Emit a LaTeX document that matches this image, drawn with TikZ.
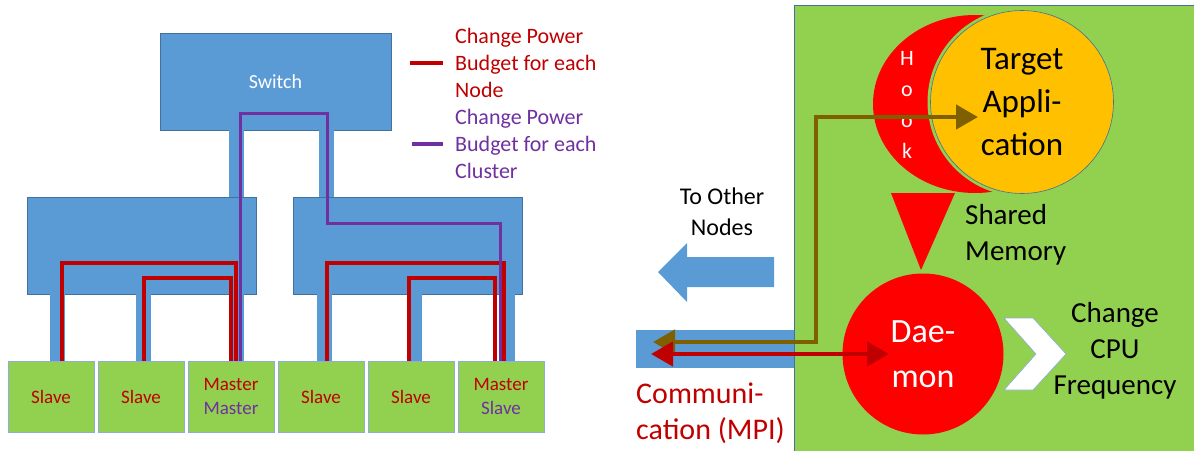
\documentclass[tikz,border=0pt]{standalone}
\usepackage{fontspec}
\setmainfont{Carlito}
\usetikzlibrary{arrows.meta}

\begin{document}
\begin{tikzpicture}[x=1pt, y=-1pt,
    bluebox/.style={fill=boxblue, draw=edgeblue, line width=0.8pt, inner sep=0pt},
    pcbox/.style={fill=leafgreen, draw=pcedge, line width=0.8pt, inner sep=0pt, minimum width=86pt, minimum height=71pt, align=center, font=\fontsize{19}{24}\selectfont},
    leg/.style={draw=boxblue, line width=15pt},
    nodepath/.style={draw=budgetred, line width=3.5pt},
    clusterpath/.style={draw=budgetpurple, line width=3pt},
    legendtext/.style={anchor=west, align=left, inner sep=0pt, font=\fontsize{22}{27}\selectfont},
    flow/.style={line width=4.5pt, {Triangle[length=22pt,width=24pt]}-{Triangle[length=22pt,width=24pt]}}
]
    \definecolor{boxblue}{HTML}{5B9BD5}
    \definecolor{edgeblue}{HTML}{41719C}
    \definecolor{pcedge}{HTML}{8FAADC}
    \definecolor{leafgreen}{HTML}{92D050}
    \definecolor{budgetred}{HTML}{C00000}
    \definecolor{budgetpurple}{HTML}{7030A0}
    \definecolor{hookred}{HTML}{FF0000}
    \definecolor{appyellow}{HTML}{FFC000}
    \definecolor{hookbrown}{HTML}{7F6000}

    \useasboundingbox (0,0) rectangle (1194,450);

    \coordinate (up_left) at (236,0);
    \coordinate (up_right) at (326,0);
    \coordinate (leg_a) at (57,0);
    \coordinate (leg_b) at (143,0);
    \coordinate (leg_c) at (236,0);
    \coordinate (leg_d) at (324,0);
    \coordinate (leg_e) at (414,0);
    \coordinate (leg_f) at (507,0);

    \node[bluebox, minimum width=231pt, minimum height=97pt, text=white, font=\fontsize{20}{24}\selectfont] (switch) at (275.5,81.5) {Switch};
    \node[bluebox, minimum width=229pt, minimum height=97pt] (lc) at (141.5,245.5) {};
    \node[bluebox, minimum width=229pt, minimum height=97pt] (rc) at (407.5,245.5) {};

    \node[pcbox] (s1) at (51,396.5) {\textcolor{budgetred}{Slave}};
    \node[pcbox] (s2) at (141,396.5) {\textcolor{budgetred}{Slave}};
    \node[pcbox] (s3) at (231,396.5) {\textcolor{budgetred}{Master}\\\textcolor{budgetpurple}{Master}};
    \node[pcbox] (s4) at (321,396.5) {\textcolor{budgetred}{Slave}};
    \node[pcbox] (s5) at (411,396.5) {\textcolor{budgetred}{Slave}};
    \node[pcbox] (s6) at (501,396.5) {\textcolor{budgetred}{Master}\\\textcolor{budgetpurple}{Slave}};

    \path[leg] (switch.south -| up_left) -- (lc.north -| up_left);
    \path[leg] (switch.south -| up_right) -- (rc.north -| up_right);
    \path[leg] (lc.south -| leg_a) -- (s1.north -| leg_a);
    \path[leg] (lc.south -| leg_b) -- (s2.north -| leg_b);
    \path[leg] (lc.south -| leg_c) -- (s3.north -| leg_c);
    \path[leg] (rc.south -| leg_d) -- (s4.north -| leg_d);
    \path[leg] (rc.south -| leg_e) -- (s5.north -| leg_e);
    \path[leg] (rc.south -| leg_f) -- (s6.north -| leg_f);

    \path[nodepath] ([xshift=11pt]s1.north) |- (236,263) -- ([xshift=5pt]s3.north);
    \path[nodepath] ([xshift=3pt]s2.north) |- (231,278) -- (s3.north);
    \path[nodepath] ([xshift=6pt]s4.north) |- (504,263) -- ([xshift=3pt]s6.north);
    \path[nodepath] ([xshift=-2pt]s5.north) |- (495,278) -- ([xshift=-6pt]s6.north);
    \path[clusterpath] ([xshift=9pt]s3.north) |- (327,113) |- (500,223) -- ([xshift=-1pt]s6.north);

    \node[legendtext, text=budgetred] (nodelegend) at (455,63) {Change Power\\Budget for each\\Node};
    \node[legendtext, text=budgetpurple] (clusterlegend) at (455,144) {Change Power\\Budget for each\\Cluster};
    \path[draw=budgetred, line width=4pt] ([xshift=-45pt]nodelegend.west) -- ([xshift=-12pt]nodelegend.west);
    \path[draw=budgetpurple, line width=4pt] ([xshift=-43pt]clusterlegend.west) -- ([xshift=-12pt]clusterlegend.west);

    \node[fill=boxblue, inner sep=0pt, minimum width=158pt, minimum height=38pt, anchor=north west] (mpi) at (636,330) {};
    \node[fill=leafgreen, draw=edgeblue, line width=0.8pt, inner sep=0pt, minimum width=402pt, minimum height=447pt, anchor=north west] (host) at (794,5) {};

    \path[fill=hookred] (975,104) ellipse [x radius=102pt, y radius=89pt];
    \path[fill=leafgreen] (1022,102) circle [radius=94.5pt];
    \node[circle, fill=appyellow, draw=edgeblue, line width=0.6pt, inner sep=0pt, minimum size=183pt, align=center, font=\fontsize{33}{43}\selectfont] (app) at (1022,102) {Target\\Appli-\\cation};
    \node[align=center, text=white, inner sep=0pt, font=\fontsize{22}{31}\selectfont] (hookname) at (907,105) {H\\o\\o\\k};

    \path[fill=hookred] (891,193) -- (955,193) -- (921,270) -- cycle;
    \node[anchor=west, align=left, inner sep=0pt, font=\fontsize{29}{36}\selectfont] (shm) at (965,235) {Shared\\Memory};

    \node[circle, fill=hookred, inner sep=0pt, minimum size=161pt, align=center, text=white, font=\fontsize{34}{45}\selectfont] (daemon) at (923,354) {Dae-\\mon};

    \path[fill=white, draw=pcedge, line width=0.6pt] (1004,318) -- (1033,318) -- (1066,354) -- (1033,390) -- (1004,390) -- (1036,354) -- cycle;
    \node[align=center, inner sep=0pt, font=\fontsize{29}{36}\selectfont] (cpufreq) at (1115,351) {Change\\CPU\\Frequency};

    \path[fill=boxblue] (774,257) -- (687,257) -- (687,243) -- (658,272) -- (687,302) -- (687,287) -- (774,287) -- cycle;
    \node[align=center, inner sep=0pt, font=\fontsize{24}{31}\selectfont] (others) at (722,212) {To Other\\Nodes};

    \node[anchor=west, align=left, inner sep=0pt, text=budgetred, font=\fontsize{30}{36}\selectfont] (commtext) at (636,413) {Communi-\\cation (MPI)};

    \coordinate (mpi_top) at (653,342);
    \coordinate (turn) at (816,117);
    \coordinate (app_in) at (978,117);
    \coordinate (mpi_low) at (651,354);
    \coordinate (daemon_in) at (889,354);

    \path[flow, draw=hookbrown] (mpi_top) -| (turn) -- (app_in);
    \path[flow, draw=budgetred] (mpi_low) -- (daemon_in);

\end{tikzpicture}
\end{document}
